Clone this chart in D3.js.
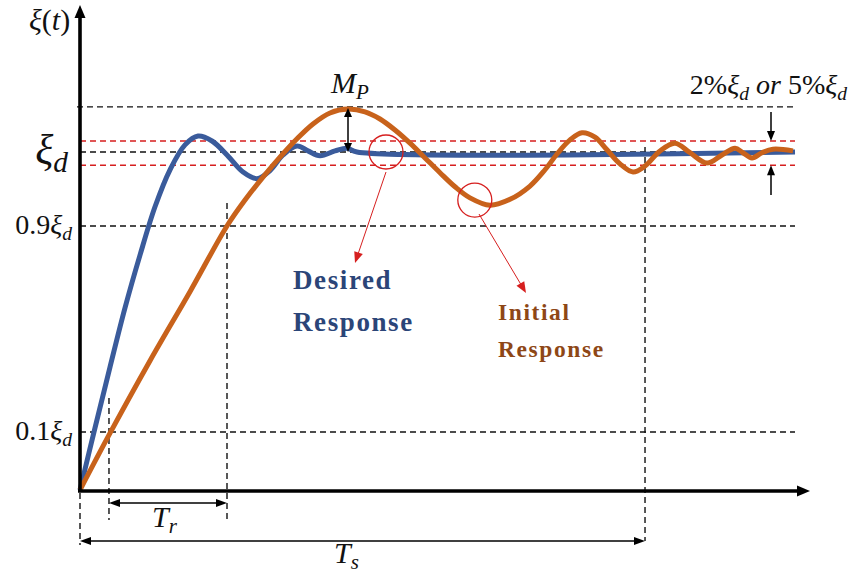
<!DOCTYPE html>
<html lang="en">
<head>
<meta charset="UTF-8">
<title>Step response specs</title>
<script src="https://d3js.org/d3.v7.min.js"></script>
<style>
  body { margin: 0; background: #fff; }
  .math { font-family: "Liberation Serif", "DejaVu Serif", serif; fill: #111; }
  .note { font-family: "Liberation Serif", serif; font-weight: bold; letter-spacing: 1.6px; }
</style>
</head>
<body>
<script>
// desired (blue) response: t [s], value in units of xi_d
const desiredT = [0, 0.25, 0.5, 0.75, 1.0, 1.25, 1.5, 1.75, 1.967, 2.2, 2.45, 2.717, 2.95,
  3.167, 3.383, 3.617, 3.8, 4.0, 4.25, 4.45, 4.617, 11.917];
const desiredV = [0, 0.116, 0.352, 0.582, 0.787, 0.926, 0.976, 1.013, 1.029, 1.02, 0.996, 0.973, 0.964,
  0.975, 0.996, 1.011, 1.002, 0.995, 1.002, 1.007, 1.0, 1.0];

// initial (orange) response
const initialT = [0, 0.5, 1.167, 1.833, 2.45, 2.75, 3.05, 3.333, 3.617, 3.883, 4.167, 4.467,
  4.75, 5.0, 5.25, 5.5, 5.75, 6.0, 6.25, 6.5, 6.833, 7.167, 7.5, 7.75, 7.967, 8.167, 8.367,
  8.583, 8.783, 9.0, 9.217, 9.417, 9.667, 9.917, 10.167, 10.45, 10.7, 10.917, 11.05, 11.2,
  11.367, 11.55, 11.883];
const initialV = [0, 0.098, 0.377, 0.645, 0.9, 0.935, 0.966, 0.993, 1.024, 1.051, 1.071, 1.078,
  1.073, 1.06, 1.04, 1.016, 0.992, 0.972, 0.953, 0.938, 0.928, 0.936, 0.954, 0.976, 0.999, 1.022, 1.035,
  1.027, 1.004, 0.984, 0.973, 0.981, 1.002, 1.016, 0.999, 0.985, 0.996, 1.007, 0.999, 0.992,
  0.999, 1.005, 1.002];

const levelValues = [0.1, 0.9];
const levelLabels = ['0.1', '0.9'];
const overshoot = 1.082;
const band = [0.982, 1.02];
const riseTimes = [0.483, 2.45];
const settleTime = 9.417;
const circleT = [5.1, 6.58];
const circleV = [1.0, 0.935];

const width = 850, height = 580;
const blue = '#3a5b9b', orange = '#c8621b', red = '#d61f1f';

const svg = d3.select('body').append('svg')
  .attr('width', width).attr('height', height);

// x: 12 s across, y: piecewise (the sketch is not to scale)
const x = d3.scaleLinear().domain([0, 12]).range([80, 800]);
const y = d3.scaleLinear().domain([0, 0.1, 0.9, 1, 1.1]).range([490, 432, 226, 152, 97]);

function head(g, tx, ty, ang, len, wid, color) {
  const a = ang * Math.PI / 180, c = Math.cos(a), s = Math.sin(a);
  const bx = tx - len * c, by = ty - len * s;
  g.append('path')
    .attr('d', `M${tx},${ty}L${bx - wid / 2 * s},${by + wid / 2 * c}L${bx + wid / 2 * s},${by - wid / 2 * c}Z`)
    .attr('fill', color);
}
function arrow(g, x1, y1, x2, y2, opt) {
  const o = Object.assign({ color: '#000', w: 1.4, len: 10, wid: 8, both: false }, opt);
  const ang = Math.atan2(y2 - y1, x2 - x1) * 180 / Math.PI;
  const dx = Math.cos(ang * Math.PI / 180) * (o.len - 2), dy = Math.sin(ang * Math.PI / 180) * (o.len - 2);
  g.append('line')
    .attr('x1', o.both ? x1 + dx : x1).attr('y1', o.both ? y1 + dy : y1)
    .attr('x2', x2 - dx).attr('y2', y2 - dy)
    .attr('stroke', o.color).attr('stroke-width', o.w);
  head(g, x2, y2, ang, o.len, o.wid, o.color);
  if (o.both) head(g, x1, y1, ang + 180, o.len, o.wid, o.color);
}

const guides = svg.append('g')
  .attr('fill', 'none').attr('stroke-width', 1.4).attr('stroke-dasharray', '6,4');

// horizontal reference lines
guides.append('line').attr('x1', 77).attr('x2', 795)
  .attr('y1', y(overshoot)).attr('y2', y(overshoot)).attr('stroke', '#111');
guides.selectAll('.lvl').data(levelValues.concat([1])).join('line')
  .attr('x1', 80).attr('x2', 795)
  .attr('y1', d => y(d)).attr('y2', d => y(d)).attr('stroke', '#111');
guides.selectAll('.band').data(band).join('line')
  .attr('x1', 80).attr('x2', 795)
  .attr('y1', d => y(d)).attr('y2', d => y(d)).attr('stroke', red);

// vertical time markers
guides.append('line').attr('x1', x(0)).attr('x2', x(0)).attr('y1', 493).attr('y2', 545).attr('stroke', '#111');
guides.append('line').attr('x1', x(riseTimes[0])).attr('x2', x(riseTimes[0]))
  .attr('y1', 398).attr('y2', 520).attr('stroke', '#111');
guides.append('line').attr('x1', x(riseTimes[1])).attr('x2', x(riseTimes[1]))
  .attr('y1', 203).attr('y2', 520).attr('stroke', '#111');
guides.append('line').attr('x1', x(settleTime)).attr('x2', x(settleTime))
  .attr('y1', 147).attr('y2', 541).attr('stroke', '#111');

// responses
const line = d3.line().x(d => x(d[0])).y(d => y(d[1])).curve(d3.curveCatmullRom.alpha(0.5));
svg.append('path')
  .datum(d3.zip(desiredT, desiredV))
  .attr('d', line).attr('fill', 'none')
  .attr('stroke', blue).attr('stroke-width', 5).attr('stroke-linejoin', 'round');
svg.append('path')
  .datum(d3.zip(initialT, initialV))
  .attr('d', line).attr('fill', 'none')
  .attr('stroke', orange).attr('stroke-width', 5).attr('stroke-linejoin', 'round');

// axes
const ax = svg.append('g');
ax.append('line').attr('x1', x(0)).attr('x2', x(0)).attr('y1', 492).attr('y2', 16)
  .attr('stroke', '#000').attr('stroke-width', 3.6);
head(ax, x(0), 5, -90, 13, 11, '#000');
ax.append('line').attr('x1', 78).attr('x2', 798).attr('y1', 491).attr('y2', 491)
  .attr('stroke', '#000').attr('stroke-width', 3.6);
head(ax, 810, 491, 0, 13, 11, '#000');

// annotation arrows
const ann = svg.append('g');
arrow(ann, 348, y(overshoot) + 1, 348, y(1), { both: true, len: 9, wid: 8, w: 1.5 });
arrow(ann, x(riseTimes[0]), 503, x(riseTimes[1]), 503, { both: true, len: 11, wid: 8, w: 1.5 });
arrow(ann, x(0), 541, x(settleTime), 541, { both: true, len: 11, wid: 8, w: 1.5 });
arrow(ann, 771, 112, 771, y(band[1]), { len: 10, wid: 8, w: 1.5 });
arrow(ann, 771, 195, 771, y(band[0]), { len: 10, wid: 8, w: 1.5 });

// red callouts
ann.selectAll('circle').data(d3.zip(circleT, circleV)).join('circle')
  .attr('cx', d => x(d[0])).attr('cy', d => y(d[1])).attr('r', 17)
  .attr('fill', 'none').attr('stroke', red).attr('stroke-width', 1.3);
arrow(ann, 386, 172, 355, 263, { color: red, w: 1, len: 11, wid: 9 });
arrow(ann, 479, 214, 526, 293, { color: red, w: 1, len: 11, wid: 9 });

// text
function mathText(px, py, size, parts, anchor) {
  const t = svg.append('text').attr('class', 'math')
    .attr('x', px).attr('y', py).attr('font-size', size)
    .attr('text-anchor', anchor || 'start');
  parts.forEach(p => {
    const s = t.append('tspan').text(p.t);
    if (p.i) s.attr('font-style', 'italic');
    if (p.sub) s.attr('font-size', size * 0.7).attr('dy', size * 0.2);
    if (p.up) s.attr('dy', -size * 0.2);
  });
  return t;
}

mathText(29, 30, 30, [{ t: 'ξ', i: 1 }, { t: '(' }, { t: 't', i: 1 }, { t: ')' }]);
mathText(68, 164, 42, [{ t: 'ξ', i: 1 }, { t: 'd', i: 1, sub: 1 }], 'end');
levelValues.forEach((v, i) => {
  mathText(72, y(v) + 8, 28, [{ t: levelLabels[i] }, { t: 'ξ', i: 1 }, { t: 'd', i: 1, sub: 1 }], 'end');
});
mathText(331, 93, 30, [{ t: 'M', i: 1 }, { t: 'P', i: 1, sub: 1 }]);
mathText(847, 94, 28, [{ t: '2%' }, { t: 'ξ', i: 1 }, { t: 'd', i: 1, sub: 1 }, { t: ' or ', i: 1, up: 1 },
  { t: '5%' }, { t: 'ξ', i: 1 }, { t: 'd', i: 1, sub: 1 }], 'end');
mathText(152, 527, 30, [{ t: 'T', i: 1 }, { t: 'r', i: 1, sub: 1 }]);
mathText(334, 563, 30, [{ t: 'T', i: 1 }, { t: 's', i: 1, sub: 1 }]);

const desired = svg.append('text').attr('class', 'note')
  .attr('fill', '#2b4578').attr('font-size', 27);
desired.append('tspan').attr('x', 293).attr('y', 289).text('Desired');
desired.append('tspan').attr('x', 293).attr('y', 331).text('Response');

const initial = svg.append('text').attr('class', 'note')
  .attr('fill', '#8e4716').attr('font-size', 23.5);
initial.append('tspan').attr('x', 498).attr('y', 320).text('Initial');
initial.append('tspan').attr('x', 498).attr('y', 357).text('Response');
</script>
</body>
</html>
